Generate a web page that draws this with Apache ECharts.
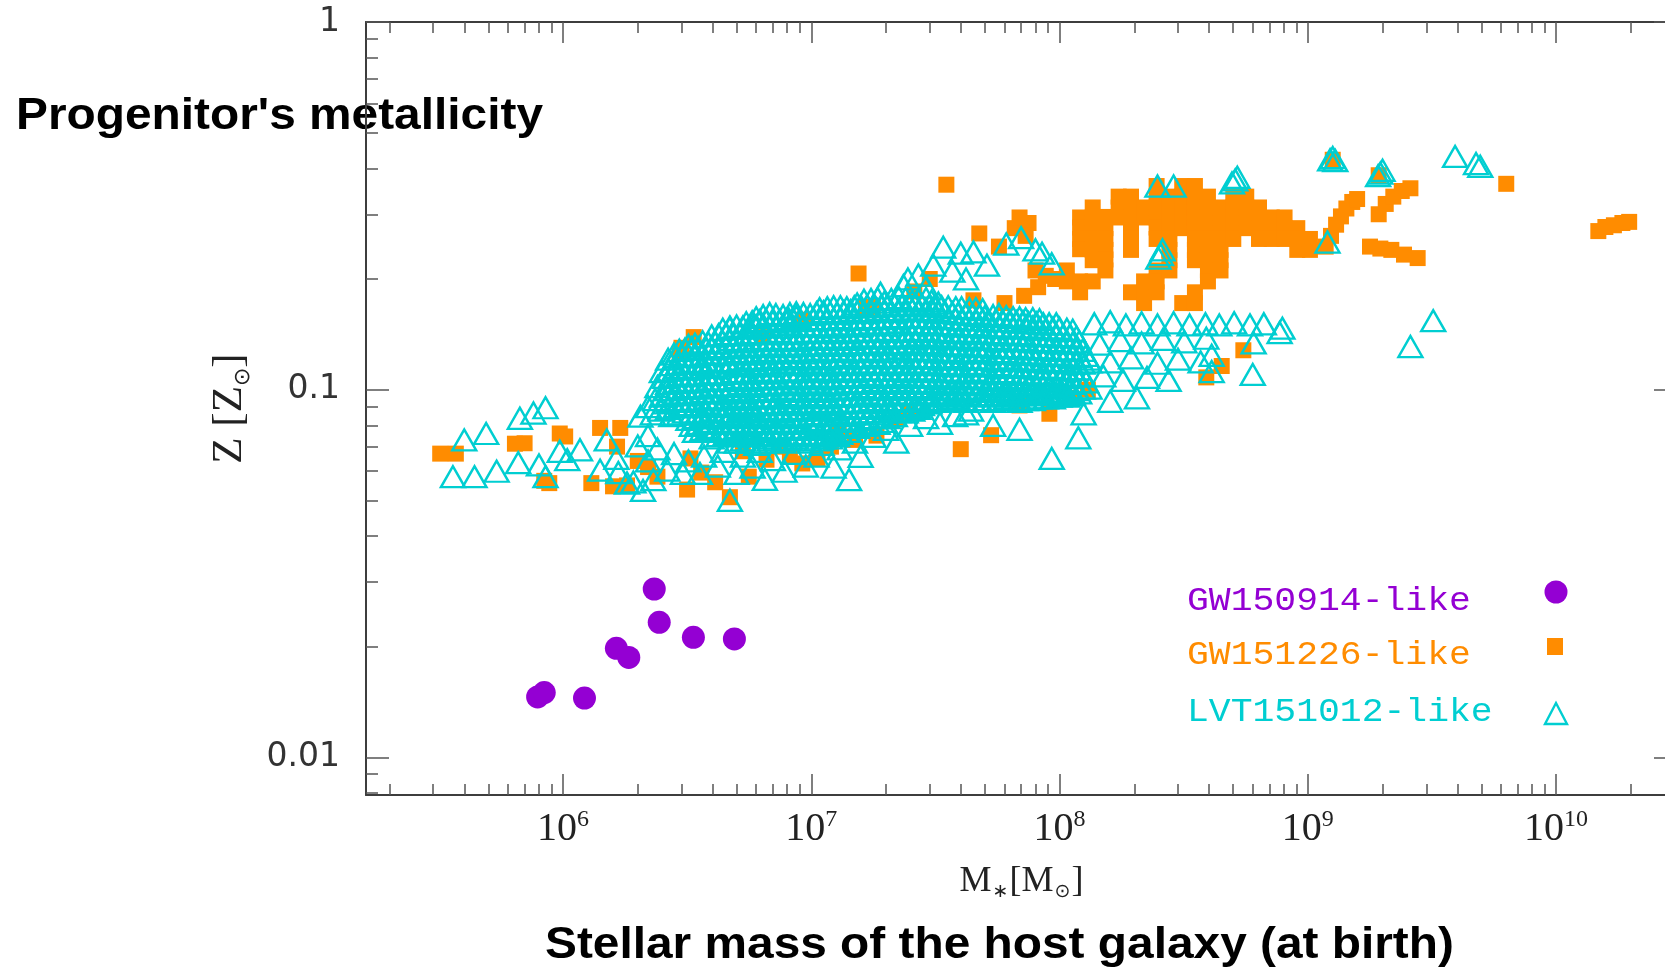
<!DOCTYPE html>
<html>
<head>
<meta charset="utf-8">
<script src="https://cdn.jsdelivr.net/npm/echarts@6/dist/echarts.min.js"></script>
<style>
  html, body { margin: 0; padding: 0; background: #ffffff; }
  #chart { width: 1665px; height: 969px; }
</style>
</head>
<body>
<div id="chart"></div>
<script>
// Axis ranges (stellar mass in M_sun, metallicity in Z_sun)
const massRange = [1.608e5, 3.07e10];
const zRange = [0.0079, 1];

// Tick marks and their labels
const massTicks = [1e6, 1e7, 1e8, 1e9, 1e10];
const massTickExponents = ['6', '7', '8', '9', '10'];
const zTicks = [0.01, 0.1, 1];
const zTickLabels = ['0.01', '0.1', '1'];

// Series names and colours
const seriesNames = ['GW150914-like', 'GW151226-like', 'LVT151012-like'];
const seriesColors = ['#9400d3', '#ff8c00', '#00ced1'];

// GW150914-like hosts: [M*, Z]
const gw150914 = [
  [7.9e5, 0.0146], [8.4e5, 0.0150], [1.22e6, 0.0145], [1.64e6, 0.0198], [1.84e6, 0.0187],
  [2.33e6, 0.0287], [2.44e6, 0.0233], [3.35e6, 0.0212], [4.9e6, 0.0210]
];

// GW151226-like hosts, low-mass / low-metallicity part
const gw151226Low = [
  [3.2e5, 0.067], [3.7e5, 0.067], [6.4e5, 0.0713], [7.0e5, 0.0715], [9.7e5, 0.076], [1.02e6, 0.0746],
  [8.4e5, 0.0565], [8.8e5, 0.0557], [1.3e6, 0.0557], [1.41e6, 0.0787], [1.59e6, 0.0546], [1.7e6, 0.0787],
  [1.65e6, 0.070], [1.81e6, 0.0549], [2.0e6, 0.064], [2.2e6, 0.0616], [2.4e6, 0.058], [2.95e6, 0.125],
  [3.0e6, 0.130], [3.36e6, 0.139], [3.16e6, 0.0535], [3.26e6, 0.065], [3.6e6, 0.0595], [4.1e6, 0.056],
  [4.7e6, 0.051], [5.3e6, 0.068], [5.6e6, 0.058], [6.4e6, 0.139], [6.6e6, 0.0645], [7.5e6, 0.070],
  [8.2e6, 0.066], [9.3e6, 0.155], [9.2e6, 0.063], [1.06e7, 0.065], [1.2e7, 0.070], [1.29e7, 0.0777],
  [1.5e7, 0.073], [1.77e7, 0.168], [1.83e7, 0.075], [2.2e7, 0.083], [2.5e7, 0.087], [4.0e7, 0.0689],
  [5.3e7, 0.0752], [6.9e7, 0.0906], [9.1e7, 0.086], [1.1e8, 0.095], [1.3e8, 0.10],
  [1.55e7, 0.207], [1.66e7, 0.167], [2.6e7, 0.185], [3.0e7, 0.20], [4.5e7, 0.175],
  [3.9e8, 0.108], [4.5e8, 0.116], [5.5e8, 0.128]
];

// GW151226-like hosts, massive / metal-rich part
const gw151226High = [
  [3.5e7, 0.361], [4.75e7, 0.266], [5.7e7, 0.245],
  [6.6e7, 0.275], [6.9e7, 0.294], [7.5e7, 0.284], [7.3e7, 0.262], [8.0e7, 0.211], [8.8e7, 0.204],
  [6.0e7, 0.172], [7.2e7, 0.18], [8.2e7, 0.19], [9.6e7, 0.20],
  [1.07e8, 0.211], [1.07e8, 0.197],
  [1.21e8, 0.294], [1.21e8, 0.276], [1.21e8, 0.257], [1.21e8, 0.241], [1.21e8, 0.197], [1.21e8, 0.184],
  [1.36e8, 0.313], [1.36e8, 0.294], [1.36e8, 0.275], [1.36e8, 0.258], [1.36e8, 0.240], [1.36e8, 0.225], [1.36e8, 0.197],
  [1.53e8, 0.295], [1.53e8, 0.275], [1.53e8, 0.257], [1.53e8, 0.240], [1.53e8, 0.226], [1.53e8, 0.211],
  [1.73e8, 0.335], [1.73e8, 0.313], [1.73e8, 0.294],
  [1.94e8, 0.335], [1.94e8, 0.314], [1.94e8, 0.294], [1.94e8, 0.275], [1.94e8, 0.257], [1.94e8, 0.240], [1.94e8, 0.184],
  [2.19e8, 0.313], [2.19e8, 0.294], [2.19e8, 0.197], [2.19e8, 0.184], [2.19e8, 0.172],
  [2.46e8, 0.358], [2.46e8, 0.335], [2.46e8, 0.313], [2.46e8, 0.294], [2.46e8, 0.276], [2.46e8, 0.257],
  [2.46e8, 0.211], [2.46e8, 0.197], [2.46e8, 0.184],
  [2.77e8, 0.335], [2.77e8, 0.313], [2.77e8, 0.294], [2.77e8, 0.275], [2.77e8, 0.257], [2.77e8, 0.240],
  [2.77e8, 0.225], [2.77e8, 0.211],
  [3.12e8, 0.358], [3.12e8, 0.335], [3.12e8, 0.313], [3.12e8, 0.294], [3.12e8, 0.275],
  [3.12e8, 0.172],
  [3.51e8, 0.358], [3.51e8, 0.335], [3.51e8, 0.313], [3.51e8, 0.294], [3.51e8, 0.275], [3.51e8, 0.257],
  [3.51e8, 0.240], [3.51e8, 0.225], [3.51e8, 0.184], [3.51e8, 0.172],
  [3.96e8, 0.335], [3.96e8, 0.313], [3.96e8, 0.294], [3.96e8, 0.275], [3.96e8, 0.257], [3.96e8, 0.240],
  [3.96e8, 0.225], [3.96e8, 0.211], [3.96e8, 0.197],
  [4.45e8, 0.313], [4.45e8, 0.294], [4.45e8, 0.275], [4.45e8, 0.257], [4.45e8, 0.240], [4.45e8, 0.225], [4.45e8, 0.211],
  [5.01e8, 0.335], [5.01e8, 0.313], [5.01e8, 0.294], [5.01e8, 0.275], [5.01e8, 0.257],
  [5.65e8, 0.335], [5.65e8, 0.313], [5.65e8, 0.294], [5.65e8, 0.275],
  [6.36e8, 0.313], [6.36e8, 0.294], [6.36e8, 0.275], [6.36e8, 0.257],
  [7.16e8, 0.294], [7.16e8, 0.275], [7.16e8, 0.257],
  [8.06e8, 0.294], [8.06e8, 0.275], [8.06e8, 0.257],
  [9.07e8, 0.275], [9.07e8, 0.257], [9.07e8, 0.240],
  [1.02e9, 0.257], [1.02e9, 0.240],
  [1.18e9, 0.245], [1.24e9, 0.262], [1.3e9, 0.281], [1.36e9, 0.296], [1.43e9, 0.311], [1.51e9, 0.324], [1.58e9, 0.33],
  [1.78e9, 0.245], [1.96e9, 0.242], [2.17e9, 0.24], [2.44e9, 0.233], [2.77e9, 0.228],
  [1.93e9, 0.30], [2.06e9, 0.32], [2.21e9, 0.335], [2.39e9, 0.347], [2.59e9, 0.353],
  [1.26e9, 0.422], [1.93e9, 0.383], [6.3e9, 0.363],
  [1.48e10, 0.27], [1.58e10, 0.277], [1.71e10, 0.28], [1.85e10, 0.284], [1.97e10, 0.286]
];

// LVT151012-like hosts, isolated points around the main cloud
const lvtOuter = [
  [3.6e5, 0.058], [4.4e5, 0.058], [5.4e5, 0.060], [4.0e5, 0.073], [4.9e5, 0.076], [6.7e5, 0.0836],
  [7.6e5, 0.0864], [8.5e5, 0.0893], [6.6e5, 0.0633], [8.0e5, 0.0624], [8.5e5, 0.058], [9.7e5, 0.068],
  [1.04e6, 0.0645], [1.17e6, 0.0686], [1.41e6, 0.0604], [1.5e6, 0.073], [1.81e6, 0.0557], [1.92e6, 0.0561],
  [2.31e6, 0.0569], [2.63e6, 0.0604], [3.04e6, 0.0592], [3.56e6, 0.0592], [4.7e6, 0.050], [5.0e6, 0.0592],
  [5.8e6, 0.0616], [7.0e6, 0.0645], [8.5e6, 0.0671], [1.23e7, 0.0616], [1.42e7, 0.0569], [1.58e7, 0.0659],
  [1.78e7, 0.0746], [2.8e6, 0.125], [4.7e6, 0.148], [5.9e6, 0.150], [8.1e6, 0.156], [8.7e6, 0.158],
  [2.63e6, 0.100], [2.47e6, 0.088], [2.05e6, 0.0847], [1.64e6, 0.065], [2.0e6, 0.0703], [2.2e6, 0.075],
  [1.67e6, 0.0595], [2.1e6, 0.0532], [2.2e6, 0.064], [2.4e6, 0.069], [2.8e6, 0.067], [3.2e6, 0.064],
  [3.7e6, 0.066], [4.2e6, 0.062], [4.4e6, 0.068], [5.3e6, 0.066], [6.2e6, 0.068], [6.5e6, 0.057],
  [7.8e6, 0.060], [9.5e6, 0.062], [1.05e7, 0.066], [1.1e7, 0.071], [1.3e7, 0.069], [1.5e7, 0.072],
  [2.0e7, 0.078], [2.2e7, 0.072], [2.5e7, 0.080], [2.9e7, 0.084], [3.3e7, 0.081], [3.8e7, 0.085],
  [4.4e7, 0.088], [2.3e6, 0.086], [2.35e6, 0.094], [2.4e6, 0.102], [2.2e6, 0.090],
  [1.9e7, 0.183], [2.35e7, 0.192], [2.7e7, 0.205], [3.1e7, 0.218], [3.4e7, 0.244], [4.0e7, 0.235],
  [4.5e7, 0.237], [2.45e7, 0.20], [2.9e7, 0.19], [5.1e7, 0.218], [6.1e7, 0.249], [7.0e7, 0.259],
  [8.0e7, 0.240], [9.3e7, 0.220], [8.5e7, 0.235], [3.7e7, 0.21], [4.2e7, 0.20],
  [1.38e8, 0.151], [1.6e8, 0.153], [1.85e8, 0.150], [2.14e8, 0.152], [2.48e8, 0.150], [2.88e8, 0.152],
  [3.34e8, 0.150], [3.87e8, 0.151], [4.4e8, 0.150], [5.05e8, 0.152], [5.85e8, 0.150], [6.65e8, 0.151],
  [7.9e8, 0.147], [7.7e8, 0.143],
  [1.45e8, 0.133], [1.76e8, 0.136], [2.14e8, 0.134], [2.61e8, 0.137], [3.18e8, 0.135], [3.9e8, 0.138], [6.05e8, 0.134],
  [1.3e8, 0.121], [1.6e8, 0.119], [1.94e8, 0.122], [2.48e8, 0.118], [3.0e8, 0.121], [3.7e8, 0.119], [4.1e8, 0.124],
  [1.5e8, 0.109], [1.8e8, 0.106], [2.25e8, 0.108], [2.75e8, 0.106], [4.1e8, 0.112], [6.0e8, 0.110],
  [1.6e8, 0.093], [2.05e8, 0.095], [1.25e8, 0.086], [1.19e8, 0.074], [9.3e7, 0.065], [6.9e7, 0.078],
  [5.4e7, 0.080], [4.2e7, 0.086],
  [2.59e9, 0.131], [3.2e9, 0.154],
  [1.26e9, 0.428], [1.29e9, 0.42], [1.23e9, 0.422], [1.96e9, 0.388], [2.0e9, 0.395], [1.92e9, 0.382],
  [3.92e9, 0.431], [4.76e9, 0.412], [4.95e9, 0.405], [1.20e9, 0.252], [4.95e8, 0.365], [5.1e8, 0.372],
  [5.2e8, 0.378], [2.48e8, 0.358], [2.88e8, 0.358], [2.56e8, 0.233], [2.6e8, 0.24], [2.5e8, 0.228]
];

// LVT151012-like hosts, the crowded core of the mass-metallicity relation
const lvtCore = [
  [1.53e7, 0.171], [1.74e7, 0.176], [1.97e7, 0.173], [2.25e7, 0.178], [2.55e7, 0.174], [2.9e7, 0.177], [3.25e7, 0.172],
  [1.08e7, 0.166], [1.23e7, 0.168], [1.39e7, 0.167], [1.58e7, 0.169], [1.8e7, 0.168], [2.03e7, 0.170], [2.32e7, 0.169],
  [2.63e7, 0.171], [2.99e7, 0.169], [3.35e7, 0.168], [3.82e7, 0.167], [4.33e7, 0.166], [4.9e7, 0.165],
  [6.0e6, 0.157], [6.8e6, 0.161], [7.7e6, 0.159], [8.7e6, 0.162], [9.9e6, 0.160], [1.12e7, 0.163], [1.27e7, 0.161],
  [1.44e7, 0.164], [1.63e7, 0.162], [1.85e7, 0.165], [2.1e7, 0.163], [2.4e7, 0.166], [2.7e7, 0.164], [3.05e7, 0.165],
  [3.45e7, 0.163], [3.9e7, 0.161], [4.45e7, 0.160], [5.0e7, 0.158], [5.7e7, 0.160], [6.5e7, 0.157], [7.3e7, 0.156],
  [8.3e7, 0.155],
  [5.47e6, 0.152], [6.2e6, 0.154], [7.0e6, 0.153], [7.95e6, 0.155], [8.98e6, 0.154], [1.02e7, 0.156], [1.16e7, 0.155],
  [1.31e7, 0.157], [1.49e7, 0.155], [1.68e7, 0.157], [1.91e7, 0.156], [2.17e7, 0.158], [2.48e7, 0.157], [2.79e7, 0.158],
  [3.15e7, 0.157], [3.56e7, 0.156], [4.03e7, 0.155], [4.6e7, 0.155], [5.16e7, 0.154], [5.88e7, 0.154], [6.7e7, 0.153],
  [7.5e7, 0.152], [8.6e7, 0.151], [9.7e7, 0.151],
  [4.4e6, 0.146], [5.0e6, 0.149], [5.6e6, 0.147], [6.4e6, 0.150], [7.2e6, 0.148], [8.2e6, 0.151], [9.3e6, 0.149],
  [1.05e7, 0.150], [1.19e7, 0.148], [1.35e7, 0.151], [1.53e7, 0.149], [1.74e7, 0.152], [1.97e7, 0.150], [2.25e7, 0.153],
  [2.55e7, 0.151], [2.9e7, 0.152], [3.25e7, 0.150], [3.7e7, 0.151], [4.2e7, 0.149], [4.75e7, 0.150], [5.4e7, 0.148],
  [6.1e7, 0.149], [6.9e7, 0.147], [7.8e7, 0.148], [8.8e7, 0.146], [1.0e8, 0.147], [1.13e8, 0.145],
  [3.97e6, 0.140], [4.54e6, 0.142], [5.16e6, 0.141], [5.78e6, 0.143], [6.6e6, 0.142], [7.43e6, 0.144], [8.46e6, 0.142],
  [9.6e6, 0.144], [1.08e7, 0.143], [1.23e7, 0.145], [1.39e7, 0.143], [1.58e7, 0.145], [1.8e7, 0.144], [2.03e7, 0.146],
  [2.32e7, 0.144], [2.63e7, 0.146], [2.99e7, 0.144], [3.35e7, 0.145], [3.82e7, 0.143], [4.33e7, 0.144], [4.9e7, 0.142],
  [5.57e7, 0.143], [6.3e7, 0.141], [7.12e7, 0.142], [8.05e7, 0.140], [9.08e7, 0.141], [1.03e8, 0.140], [1.17e8, 0.139],
  [3.2e6, 0.132], [3.65e6, 0.135], [4.1e6, 0.134], [4.7e6, 0.137], [5.3e6, 0.135], [6.0e6, 0.138], [6.8e6, 0.136],
  [7.7e6, 0.138], [8.7e6, 0.136], [9.9e6, 0.139], [1.12e7, 0.137], [1.27e7, 0.139], [1.44e7, 0.137], [1.63e7, 0.140],
  [1.85e7, 0.138], [2.1e7, 0.140], [2.4e7, 0.138], [2.7e7, 0.141], [3.05e7, 0.139], [3.45e7, 0.140], [3.9e7, 0.138],
  [4.45e7, 0.139], [5.0e7, 0.137], [5.7e7, 0.138], [6.5e7, 0.136], [7.3e7, 0.137], [8.3e7, 0.135], [9.4e7, 0.136],
  [1.07e8, 0.134], [1.2e8, 0.135],
  [2.94e6, 0.128], [3.3e6, 0.130], [3.77e6, 0.129], [4.23e6, 0.131], [4.85e6, 0.130], [5.47e6, 0.132], [6.2e6, 0.131],
  [7.0e6, 0.133], [7.95e6, 0.131], [8.98e6, 0.133], [1.02e7, 0.132], [1.16e7, 0.134], [1.31e7, 0.132], [1.49e7, 0.134],
  [1.68e7, 0.133], [1.91e7, 0.135], [2.17e7, 0.133], [2.48e7, 0.135], [2.79e7, 0.133], [3.15e7, 0.134], [3.56e7, 0.132],
  [4.03e7, 0.133], [4.6e7, 0.131], [5.16e7, 0.132], [5.88e7, 0.130], [6.7e7, 0.131], [7.5e7, 0.129], [8.6e7, 0.130],
  [9.7e7, 0.128], [1.1e8, 0.129], [1.24e8, 0.128],
  [2.65e6, 0.121], [3.0e6, 0.124], [3.4e6, 0.123], [3.85e6, 0.126], [4.4e6, 0.125], [5.0e6, 0.127], [5.6e6, 0.125],
  [6.4e6, 0.128], [7.2e6, 0.126], [8.2e6, 0.128], [9.3e6, 0.126], [1.05e7, 0.129], [1.19e7, 0.127], [1.35e7, 0.129],
  [1.53e7, 0.127], [1.74e7, 0.129], [1.97e7, 0.127], [2.25e7, 0.130], [2.55e7, 0.128], [2.9e7, 0.129], [3.25e7, 0.127],
  [3.7e7, 0.128], [4.2e7, 0.126], [4.75e7, 0.128], [5.4e7, 0.126], [6.1e7, 0.127], [6.9e7, 0.125], [7.8e7, 0.126],
  [8.8e7, 0.124], [1.0e8, 0.125], [1.13e8, 0.123], [1.28e8, 0.124],
  [2.73e6, 0.117], [3.1e6, 0.119], [3.5e6, 0.118], [3.97e6, 0.120], [4.54e6, 0.119], [5.16e6, 0.121], [5.78e6, 0.120],
  [6.6e6, 0.122], [7.43e6, 0.121], [8.46e6, 0.123], [9.6e6, 0.121], [1.08e7, 0.123], [1.23e7, 0.122], [1.39e7, 0.124],
  [1.58e7, 0.122], [1.8e7, 0.124], [2.03e7, 0.122], [2.32e7, 0.124], [2.63e7, 0.122], [2.99e7, 0.123], [3.35e7, 0.121],
  [3.82e7, 0.123], [4.33e7, 0.121], [4.9e7, 0.122], [5.57e7, 0.120], [6.3e7, 0.122], [7.12e7, 0.120], [8.05e7, 0.121],
  [9.08e7, 0.119], [1.03e8, 0.120], [1.17e8, 0.118], [1.32e8, 0.119],
  [2.5e6, 0.112], [2.85e6, 0.115], [3.2e6, 0.114], [3.65e6, 0.117], [4.1e6, 0.115], [4.7e6, 0.118], [5.3e6, 0.116],
  [6.0e6, 0.118], [6.8e6, 0.116], [7.7e6, 0.119], [8.7e6, 0.117], [9.9e6, 0.119], [1.12e7, 0.117], [1.27e7, 0.119],
  [1.44e7, 0.117], [1.63e7, 0.119], [1.85e7, 0.117], [2.1e7, 0.119], [2.4e7, 0.117], [2.7e7, 0.119], [3.05e7, 0.117],
  [3.45e7, 0.118], [3.9e7, 0.116], [4.45e7, 0.118], [5.0e7, 0.116], [5.7e7, 0.117], [6.5e7, 0.115], [7.3e7, 0.116],
  [8.3e7, 0.114], [9.4e7, 0.115], [1.07e8, 0.113], [1.2e8, 0.114],
  [2.58e6, 0.108], [2.94e6, 0.110], [3.3e6, 0.109], [3.77e6, 0.111], [4.23e6, 0.110], [4.85e6, 0.112], [5.47e6, 0.111],
  [6.2e6, 0.113], [7.0e6, 0.111], [7.95e6, 0.113], [8.98e6, 0.112], [1.02e7, 0.114], [1.16e7, 0.112], [1.31e7, 0.114],
  [1.49e7, 0.112], [1.68e7, 0.114], [1.91e7, 0.113], [2.17e7, 0.114], [2.48e7, 0.112], [2.79e7, 0.114], [3.15e7, 0.112],
  [3.56e7, 0.113], [4.03e7, 0.111], [4.6e7, 0.113], [5.16e7, 0.111], [5.88e7, 0.112], [6.7e7, 0.110], [7.5e7, 0.111],
  [8.6e7, 0.109], [9.7e7, 0.110], [1.1e8, 0.108], [1.24e8, 0.109],
  [2.65e6, 0.104], [3.0e6, 0.106], [3.4e6, 0.105], [3.85e6, 0.107], [4.4e6, 0.106], [5.0e6, 0.108], [5.6e6, 0.106],
  [6.4e6, 0.108], [7.2e6, 0.107], [8.2e6, 0.109], [9.3e6, 0.107], [1.05e7, 0.109], [1.19e7, 0.107], [1.35e7, 0.109],
  [1.53e7, 0.108], [1.74e7, 0.110], [1.97e7, 0.108], [2.25e7, 0.110], [2.55e7, 0.108], [2.9e7, 0.109], [3.25e7, 0.107],
  [3.7e7, 0.109], [4.2e7, 0.107], [4.75e7, 0.108], [5.4e7, 0.106], [6.1e7, 0.108], [6.9e7, 0.106], [7.8e7, 0.107],
  [8.8e7, 0.105], [1.0e8, 0.106], [1.13e8, 0.104], [1.28e8, 0.105],
  [2.73e6, 0.100], [3.1e6, 0.102], [3.5e6, 0.101], [3.97e6, 0.103], [4.54e6, 0.102], [5.16e6, 0.104], [5.78e6, 0.102],
  [6.6e6, 0.104], [7.43e6, 0.103], [8.46e6, 0.105], [9.6e6, 0.103], [1.08e7, 0.105], [1.23e7, 0.103], [1.39e7, 0.105],
  [1.58e7, 0.104], [1.8e7, 0.106], [2.03e7, 0.104], [2.32e7, 0.106], [2.63e7, 0.104], [2.99e7, 0.105], [3.35e7, 0.103],
  [3.82e7, 0.105], [4.33e7, 0.103], [4.9e7, 0.104], [5.57e7, 0.102], [6.3e7, 0.104], [7.12e7, 0.102], [8.05e7, 0.103],
  [9.08e7, 0.101], [1.03e8, 0.102], [1.17e8, 0.100], [1.32e8, 0.101],
  [2.5e6, 0.096], [2.85e6, 0.098], [3.2e6, 0.097], [3.65e6, 0.099], [4.1e6, 0.098], [4.7e6, 0.100], [5.3e6, 0.098],
  [6.0e6, 0.100], [6.8e6, 0.099], [7.7e6, 0.101], [8.7e6, 0.099], [9.9e6, 0.101], [1.12e7, 0.099], [1.27e7, 0.101],
  [1.44e7, 0.100], [1.63e7, 0.102], [1.85e7, 0.100], [2.1e7, 0.102], [2.4e7, 0.100], [2.7e7, 0.102], [3.05e7, 0.100],
  [3.45e7, 0.101], [3.9e7, 0.099], [4.45e7, 0.101], [5.0e7, 0.099], [5.7e7, 0.100], [6.5e7, 0.098], [7.3e7, 0.100],
  [8.3e7, 0.098], [9.4e7, 0.099], [1.07e8, 0.097], [1.2e8, 0.098],
  [2.58e6, 0.092], [2.94e6, 0.094], [3.3e6, 0.093], [3.77e6, 0.095], [4.23e6, 0.094], [4.85e6, 0.096], [5.47e6, 0.094],
  [6.2e6, 0.096], [7.0e6, 0.095], [7.95e6, 0.097], [8.98e6, 0.095], [1.02e7, 0.097], [1.16e7, 0.095], [1.31e7, 0.097],
  [1.49e7, 0.096], [1.68e7, 0.098], [1.91e7, 0.096], [2.17e7, 0.098], [2.48e7, 0.097], [2.79e7, 0.098], [3.15e7, 0.096],
  [3.56e7, 0.098], [4.03e7, 0.096], [4.6e7, 0.097], [5.16e7, 0.096], [5.88e7, 0.097], [6.7e7, 0.096], [7.5e7, 0.097],
  [8.6e7, 0.097], [9.7e7, 0.098], [1.1e8, 0.099],
  [2.65e6, 0.089], [3.0e6, 0.091], [3.4e6, 0.090], [3.85e6, 0.092], [4.4e6, 0.090], [5.0e6, 0.092], [5.6e6, 0.090],
  [6.4e6, 0.092], [7.2e6, 0.091], [8.2e6, 0.093], [9.3e6, 0.091], [1.05e7, 0.093], [1.19e7, 0.091], [1.35e7, 0.093],
  [1.53e7, 0.092], [1.74e7, 0.094], [1.97e7, 0.092], [2.25e7, 0.094], [2.55e7, 0.093], [2.9e7, 0.094], [3.25e7, 0.093],
  [3.7e7, 0.095], [4.2e7, 0.093], [4.75e7, 0.094], [5.4e7, 0.093], [6.1e7, 0.095], [6.9e7, 0.093], [7.8e7, 0.094],
  [8.8e7, 0.095], [1.0e8, 0.096], [1.13e8, 0.097],
  [2.73e6, 0.085], [3.1e6, 0.087], [3.5e6, 0.086], [3.97e6, 0.088], [4.54e6, 0.087], [5.16e6, 0.089], [5.78e6, 0.087],
  [6.6e6, 0.089], [7.43e6, 0.087], [8.46e6, 0.089], [9.6e6, 0.088], [1.08e7, 0.090], [1.23e7, 0.088], [1.39e7, 0.090],
  [1.58e7, 0.089], [1.8e7, 0.090], [2.03e7, 0.089], [2.32e7, 0.091], [2.63e7, 0.090], [2.99e7, 0.092],
  [3.2e6, 0.083], [3.65e6, 0.085], [4.1e6, 0.084], [4.7e6, 0.086], [5.3e6, 0.084], [6.0e6, 0.086], [6.8e6, 0.084],
  [7.7e6, 0.086], [8.7e6, 0.084], [9.9e6, 0.086], [1.12e7, 0.085], [1.27e7, 0.087], [1.44e7, 0.085], [1.63e7, 0.087],
  [1.85e7, 0.086], [2.1e7, 0.088], [2.4e7, 0.087], [2.7e7, 0.089],
  [3.3e6, 0.080], [3.77e6, 0.082], [4.23e6, 0.081], [4.85e6, 0.082], [5.47e6, 0.080], [6.2e6, 0.082], [7.0e6, 0.081],
  [7.95e6, 0.082], [8.98e6, 0.081], [1.02e7, 0.083], [1.16e7, 0.081], [1.31e7, 0.083], [1.49e7, 0.082], [1.68e7, 0.084],
  [1.91e7, 0.084], [2.17e7, 0.085],
  [3.4e6, 0.077], [3.85e6, 0.079], [4.4e6, 0.077], [5.0e6, 0.079], [5.6e6, 0.077], [6.4e6, 0.079], [7.2e6, 0.077],
  [8.2e6, 0.079], [9.3e6, 0.078], [1.05e7, 0.080], [1.19e7, 0.078], [1.35e7, 0.080], [1.53e7, 0.079], [1.74e7, 0.081],
  [1.97e7, 0.082],
  [3.97e6, 0.074], [4.54e6, 0.076], [5.16e6, 0.075], [5.78e6, 0.076], [6.6e6, 0.074], [7.43e6, 0.076], [8.46e6, 0.075],
  [9.6e6, 0.076], [1.08e7, 0.075], [1.23e7, 0.077], [1.39e7, 0.077],
  [4.7e6, 0.072], [5.3e6, 0.073], [6.0e6, 0.071], [6.8e6, 0.073], [7.7e6, 0.072], [8.7e6, 0.074], [9.9e6, 0.072],
  [1.12e7, 0.074], [1.27e7, 0.075]
];

// LVT151012-like hosts filling the gaps of the crowded core
const lvtCoreFill = [
  [1.63e7, 0.175], [1.85e7, 0.177], [2.1e7, 0.176], [2.4e7, 0.177], [2.7e7, 0.176], [3.05e7, 0.174],
  [1.16e7, 0.167], [1.31e7, 0.168], [1.49e7, 0.168], [1.68e7, 0.169], [1.91e7, 0.169], [2.17e7, 0.170],
  [2.48e7, 0.170], [2.79e7, 0.170], [3.15e7, 0.169], [3.56e7, 0.168], [4.03e7, 0.167], [4.6e7, 0.166],
  [6.4e6, 0.159], [7.2e6, 0.160], [8.2e6, 0.161], [9.3e6, 0.161], [1.05e7, 0.162], [1.19e7, 0.162], [1.35e7, 0.163],
  [1.53e7, 0.163], [1.74e7, 0.164], [1.97e7, 0.164], [2.25e7, 0.165], [2.55e7, 0.165], [2.9e7, 0.165], [3.25e7, 0.164],
  [3.7e7, 0.162], [4.2e7, 0.161], [4.75e7, 0.159], [5.4e7, 0.159], [6.1e7, 0.158], [6.9e7, 0.157], [7.8e7, 0.156],
  [5.78e6, 0.153], [6.6e6, 0.154], [7.43e6, 0.154], [8.46e6, 0.155], [9.6e6, 0.155], [1.08e7, 0.156], [1.23e7, 0.156],
  [1.39e7, 0.156], [1.58e7, 0.156], [1.8e7, 0.157], [2.03e7, 0.157], [2.32e7, 0.158], [2.63e7, 0.158], [2.99e7, 0.158],
  [3.35e7, 0.157], [3.82e7, 0.156], [4.33e7, 0.155], [4.9e7, 0.155], [5.57e7, 0.154], [6.3e7, 0.154], [7.12e7, 0.153],
  [8.05e7, 0.152], [9.08e7, 0.151],
  [4.7e6, 0.147], [5.3e6, 0.148], [6.0e6, 0.149], [6.8e6, 0.149], [7.7e6, 0.150], [8.7e6, 0.150], [9.9e6, 0.150],
  [1.12e7, 0.149], [1.27e7, 0.150], [1.44e7, 0.150], [1.63e7, 0.151], [1.85e7, 0.151], [2.1e7, 0.152], [2.4e7, 0.152],
  [2.7e7, 0.152], [3.05e7, 0.151], [3.45e7, 0.151], [3.9e7, 0.150], [4.45e7, 0.150], [5.0e7, 0.149], [5.7e7, 0.149],
  [6.5e7, 0.148], [7.3e7, 0.148], [8.3e7, 0.147], [9.4e7, 0.147], [1.07e8, 0.146],
  [4.23e6, 0.141], [4.85e6, 0.141], [5.47e6, 0.142], [6.2e6, 0.142], [7.0e6, 0.143], [7.95e6, 0.143], [8.98e6, 0.143],
  [1.02e7, 0.144], [1.16e7, 0.144], [1.31e7, 0.144], [1.49e7, 0.144], [1.68e7, 0.145], [1.91e7, 0.145], [2.17e7, 0.145],
  [2.48e7, 0.145], [2.79e7, 0.145], [3.15e7, 0.144], [3.56e7, 0.144], [4.03e7, 0.144], [4.6e7, 0.143], [5.16e7, 0.143],
  [5.88e7, 0.142], [6.7e7, 0.142], [7.5e7, 0.141], [8.6e7, 0.141], [9.7e7, 0.140], [1.1e8, 0.140],
  [3.4e6, 0.133], [3.85e6, 0.134], [4.4e6, 0.135], [5.0e6, 0.136], [5.6e6, 0.136], [6.4e6, 0.137], [7.2e6, 0.137],
  [8.2e6, 0.137], [9.3e6, 0.138], [1.05e7, 0.138], [1.19e7, 0.138], [1.35e7, 0.138], [1.53e7, 0.139], [1.74e7, 0.139],
  [1.97e7, 0.139], [2.25e7, 0.139], [2.55e7, 0.140], [2.9e7, 0.140], [3.25e7, 0.139], [3.7e7, 0.139], [4.2e7, 0.138],
  [4.75e7, 0.138], [5.4e7, 0.137], [6.1e7, 0.137], [6.9e7, 0.136], [7.8e7, 0.136], [8.8e7, 0.135], [1.0e8, 0.135],
  [1.13e8, 0.134],
  [3.1e6, 0.129], [3.5e6, 0.130], [3.97e6, 0.130], [4.54e6, 0.131], [5.16e6, 0.131], [5.78e6, 0.132], [6.6e6, 0.132],
  [7.43e6, 0.132], [8.46e6, 0.132], [9.6e6, 0.133], [1.08e7, 0.133], [1.23e7, 0.133], [1.39e7, 0.133], [1.58e7, 0.134],
  [1.8e7, 0.134], [2.03e7, 0.134], [2.32e7, 0.134], [2.63e7, 0.134], [2.99e7, 0.134], [3.35e7, 0.133], [3.82e7, 0.133],
  [4.33e7, 0.132], [4.9e7, 0.132], [5.57e7, 0.131], [6.3e7, 0.131], [7.12e7, 0.130], [8.05e7, 0.130], [9.08e7, 0.129],
  [1.03e8, 0.129], [1.17e8, 0.128],
  [2.85e6, 0.123], [3.2e6, 0.124], [3.65e6, 0.125], [4.1e6, 0.125], [4.7e6, 0.126], [5.3e6, 0.126], [6.0e6, 0.127],
  [6.8e6, 0.127], [7.7e6, 0.127], [8.7e6, 0.127], [9.9e6, 0.128], [1.12e7, 0.128], [1.27e7, 0.128], [1.44e7, 0.128],
  [1.63e7, 0.128], [1.85e7, 0.128], [2.1e7, 0.129], [2.4e7, 0.129], [2.7e7, 0.128], [3.05e7, 0.128], [3.45e7, 0.128],
  [3.9e7, 0.127], [4.45e7, 0.127], [5.0e7, 0.127], [5.7e7, 0.126], [6.5e7, 0.126], [7.3e7, 0.125], [8.3e7, 0.125],
  [9.4e7, 0.124], [1.07e8, 0.124], [1.2e8, 0.123],
  [2.94e6, 0.118], [3.3e6, 0.119], [3.77e6, 0.119], [4.23e6, 0.120], [4.85e6, 0.120], [5.47e6, 0.121], [6.2e6, 0.121],
  [7.0e6, 0.122], [7.95e6, 0.122], [8.98e6, 0.122], [1.02e7, 0.122], [1.16e7, 0.123], [1.31e7, 0.123], [1.49e7, 0.123],
  [1.68e7, 0.123], [1.91e7, 0.123], [2.17e7, 0.123], [2.48e7, 0.123], [2.79e7, 0.122], [3.15e7, 0.122], [3.56e7, 0.122],
  [4.03e7, 0.122], [4.6e7, 0.121], [5.16e7, 0.121], [5.88e7, 0.121], [6.7e7, 0.121], [7.5e7, 0.120], [8.6e7, 0.120],
  [9.7e7, 0.119], [1.1e8, 0.119], [1.24e8, 0.118],
  [2.65e6, 0.113], [3.0e6, 0.114], [3.4e6, 0.115], [3.85e6, 0.116], [4.4e6, 0.116], [5.0e6, 0.117], [5.6e6, 0.117],
  [6.4e6, 0.117], [7.2e6, 0.118], [8.2e6, 0.118], [9.3e6, 0.118], [1.05e7, 0.118], [1.19e7, 0.118], [1.35e7, 0.118],
  [1.53e7, 0.118], [1.74e7, 0.118], [1.97e7, 0.118], [2.25e7, 0.118], [2.55e7, 0.118], [2.9e7, 0.118], [3.25e7, 0.117],
  [3.7e7, 0.117], [4.2e7, 0.117], [4.75e7, 0.117], [5.4e7, 0.116], [6.1e7, 0.116], [6.9e7, 0.116], [7.8e7, 0.115],
  [8.8e7, 0.115], [1.0e8, 0.114], [1.13e8, 0.114],
  [2.73e6, 0.109], [3.1e6, 0.110], [3.5e6, 0.110], [3.97e6, 0.111], [4.54e6, 0.111], [5.16e6, 0.112], [5.78e6, 0.112],
  [6.6e6, 0.112], [7.43e6, 0.112], [8.46e6, 0.113], [9.6e6, 0.113], [1.08e7, 0.113], [1.23e7, 0.113], [1.39e7, 0.113],
  [1.58e7, 0.113], [1.8e7, 0.113], [2.03e7, 0.113], [2.32e7, 0.113], [2.63e7, 0.113], [2.99e7, 0.113], [3.35e7, 0.112],
  [3.82e7, 0.112], [4.33e7, 0.112], [4.9e7, 0.112], [5.57e7, 0.111], [6.3e7, 0.111], [7.12e7, 0.111], [8.05e7, 0.110],
  [9.08e7, 0.110], [1.03e8, 0.109], [1.17e8, 0.109],
  [2.85e6, 0.105], [3.2e6, 0.105], [3.65e6, 0.106], [4.1e6, 0.106], [4.7e6, 0.107], [5.3e6, 0.107], [6.0e6, 0.107],
  [6.8e6, 0.108], [7.7e6, 0.108], [8.7e6, 0.108], [9.9e6, 0.108], [1.12e7, 0.108], [1.27e7, 0.108], [1.44e7, 0.109],
  [1.63e7, 0.109], [1.85e7, 0.109], [2.1e7, 0.109], [2.4e7, 0.109], [2.7e7, 0.109], [3.05e7, 0.108], [3.45e7, 0.108],
  [3.9e7, 0.108], [4.45e7, 0.108], [5.0e7, 0.107], [5.7e7, 0.107], [6.5e7, 0.107], [7.3e7, 0.106], [8.3e7, 0.106],
  [9.4e7, 0.106], [1.07e8, 0.105], [1.2e8, 0.105],
  [2.94e6, 0.101], [3.3e6, 0.101], [3.77e6, 0.102], [4.23e6, 0.102], [4.85e6, 0.103], [5.47e6, 0.103], [6.2e6, 0.103],
  [7.0e6, 0.104], [7.95e6, 0.104], [8.98e6, 0.104], [1.02e7, 0.104], [1.16e7, 0.104], [1.31e7, 0.104], [1.49e7, 0.105],
  [1.68e7, 0.105], [1.91e7, 0.105], [2.17e7, 0.105], [2.48e7, 0.105], [2.79e7, 0.105], [3.15e7, 0.104], [3.56e7, 0.104],
  [4.03e7, 0.104], [4.6e7, 0.104], [5.16e7, 0.103], [5.88e7, 0.103], [6.7e7, 0.103], [7.5e7, 0.102], [8.6e7, 0.102],
  [9.7e7, 0.102], [1.1e8, 0.101], [1.24e8, 0.101],
  [2.65e6, 0.097], [3.0e6, 0.097], [3.4e6, 0.098], [3.85e6, 0.098], [4.4e6, 0.099], [5.0e6, 0.099], [5.6e6, 0.099],
  [6.4e6, 0.100], [7.2e6, 0.100], [8.2e6, 0.100], [9.3e6, 0.100], [1.05e7, 0.100], [1.19e7, 0.100], [1.35e7, 0.101],
  [1.53e7, 0.101], [1.74e7, 0.101], [1.97e7, 0.101], [2.25e7, 0.101], [2.55e7, 0.101], [2.9e7, 0.101], [3.25e7, 0.101],
  [3.7e7, 0.100], [4.2e7, 0.100], [4.75e7, 0.100], [5.4e7, 0.100], [6.1e7, 0.099], [6.9e7, 0.099], [7.8e7, 0.099],
  [8.8e7, 0.099], [1.0e8, 0.098], [1.13e8, 0.098],
  [2.73e6, 0.093], [3.1e6, 0.093], [3.5e6, 0.094], [3.97e6, 0.094], [4.54e6, 0.095], [5.16e6, 0.095], [5.78e6, 0.095],
  [6.6e6, 0.096], [7.43e6, 0.096], [8.46e6, 0.096], [9.6e6, 0.096], [1.08e7, 0.096], [1.23e7, 0.096], [1.39e7, 0.097],
  [1.58e7, 0.097], [1.8e7, 0.097], [2.03e7, 0.097], [2.32e7, 0.097], [2.63e7, 0.097], [2.99e7, 0.097], [3.35e7, 0.097],
  [3.82e7, 0.097], [4.33e7, 0.097], [4.9e7, 0.097], [5.57e7, 0.097], [6.3e7, 0.097], [7.12e7, 0.097], [8.05e7, 0.097],
  [9.08e7, 0.098], [1.03e8, 0.098],
  [2.85e6, 0.090], [3.2e6, 0.090], [3.65e6, 0.091], [4.1e6, 0.091], [4.7e6, 0.091], [5.3e6, 0.091], [6.0e6, 0.091],
  [6.8e6, 0.092], [7.7e6, 0.092], [8.7e6, 0.092], [9.9e6, 0.092], [1.12e7, 0.092], [1.27e7, 0.092], [1.44e7, 0.093],
  [1.63e7, 0.093], [1.85e7, 0.093], [2.1e7, 0.093], [2.4e7, 0.094], [2.7e7, 0.094], [3.05e7, 0.094], [3.45e7, 0.094],
  [3.9e7, 0.094], [4.45e7, 0.094], [5.0e7, 0.094], [5.7e7, 0.094], [6.5e7, 0.094], [7.3e7, 0.094], [8.3e7, 0.095],
  [9.4e7, 0.095], [1.07e8, 0.096],
  [2.94e6, 0.086], [3.3e6, 0.086], [3.77e6, 0.087], [4.23e6, 0.087], [4.85e6, 0.087], [5.47e6, 0.088], [6.2e6, 0.088],
  [7.0e6, 0.088], [7.95e6, 0.088], [8.98e6, 0.088], [1.02e7, 0.089], [1.16e7, 0.089], [1.31e7, 0.089], [1.49e7, 0.089],
  [1.68e7, 0.089], [1.91e7, 0.090], [2.17e7, 0.090], [2.48e7, 0.090], [2.79e7, 0.091],
  [3.4e6, 0.084], [3.85e6, 0.084], [4.4e6, 0.085], [5.0e6, 0.085], [5.6e6, 0.085], [6.4e6, 0.085], [7.2e6, 0.085],
  [8.2e6, 0.085], [9.3e6, 0.085], [1.05e7, 0.086], [1.19e7, 0.086], [1.35e7, 0.086], [1.53e7, 0.086], [1.74e7, 0.087],
  [1.97e7, 0.087], [2.25e7, 0.087], [2.55e7, 0.088],
  [3.5e6, 0.081], [3.97e6, 0.081], [4.54e6, 0.082], [5.16e6, 0.081], [5.78e6, 0.081], [6.6e6, 0.081], [7.43e6, 0.082],
  [8.46e6, 0.082], [9.6e6, 0.082], [1.08e7, 0.082], [1.23e7, 0.082], [1.39e7, 0.083], [1.58e7, 0.083], [1.8e7, 0.084],
  [2.03e7, 0.084],
  [3.65e6, 0.078], [4.1e6, 0.078], [4.7e6, 0.078], [5.3e6, 0.078], [6.0e6, 0.078], [6.8e6, 0.078], [7.7e6, 0.078],
  [8.7e6, 0.078], [9.9e6, 0.079], [1.12e7, 0.079], [1.27e7, 0.079], [1.44e7, 0.080], [1.63e7, 0.080], [1.85e7, 0.081],
  [4.23e6, 0.075], [4.85e6, 0.075], [5.47e6, 0.075], [6.2e6, 0.075], [7.0e6, 0.075], [7.95e6, 0.075], [8.98e6, 0.075],
  [1.02e7, 0.076], [1.16e7, 0.076], [1.31e7, 0.076],
  [5.0e6, 0.072], [5.6e6, 0.072], [6.4e6, 0.072], [7.2e6, 0.073], [8.2e6, 0.073], [9.3e6, 0.073], [1.05e7, 0.073],
  [1.19e7, 0.074]
];

const log10 = Math.log10;
const xLo = log10(massRange[0]), xHi = log10(massRange[1]);
const yLo = log10(zRange[0]), yHi = log10(zRange[1]);

// minor tick positions (2..9 x 10^n) in log units, inside [lo, hi]
function minorTicks(lo, hi) {
  const out = [];
  for (let e = Math.floor(lo); e <= Math.ceil(hi); e++) {
    for (let k = 2; k <= 9; k++) {
      const v = e + log10(k);
      if (v > lo && v < hi) out.push(v);
    }
  }
  return out;
}

const frameColor = '#3d3d3d';
const tickColor = '#555555';
const MAJOR = 21, MINOR = 11;

function findLabel(values, labels, v) {
  for (let i = 0; i < values.length; i++) {
    if (Math.abs(log10(values[i]) - v) < 1e-6) return labels[i];
  }
  return '';
}

// decorative frame axes in log10 units, sharing the data grid
function frameAxis(position, lo, hi, ticks, len, withLine, label, extra) {
  return Object.assign({
    type: 'value', position: position, min: lo, max: hi,
    axisLine: { show: withLine, onZero: false, lineStyle: { color: frameColor, width: 2 } },
    axisTick: { show: true, inside: true, length: len, customValues: ticks,
                lineStyle: { color: tickColor, width: 1.5 } },
    axisLabel: label || { show: false },
    splitLine: { show: false }
  }, extra || {});
}

const xMajorLog = massTicks.map(log10);
const yMajorLog = zTicks.map(log10);

const serif = '"Liberation Serif", "DejaVu Serif", serif';

const option = {
  animation: false,
  backgroundColor: '#ffffff',
  grid: { left: 366, right: -12, top: 22, bottom: 174, containLabel: false, outerBoundsMode: 'none' },
  xAxis: [
    { type: 'log', logBase: 10, min: massRange[0], max: massRange[1], show: false },
    frameAxis('bottom', xLo, xHi, xMajorLog, MAJOR, true, {
      show: true, customValues: xMajorLog, margin: 13,
      formatter: v => '{b|10}{s|' + findLabel(massTicks, massTickExponents, v) + '}',
      rich: {
        b: { fontFamily: serif, fontSize: 40, color: '#222', lineHeight: 42 },
        s: { fontFamily: serif, fontSize: 24, color: '#222', lineHeight: 24, verticalAlign: 'top' }
      }
    }, {
      name: '{m|M}{u|\u2217}{m|[M}{u|\u2299}{m|]}',
      nameLocation: 'middle', nameGap: 67,
      nameTextStyle: {
        rich: {
          m: { fontFamily: serif, fontSize: 36, color: '#222', lineHeight: 40 },
          u: { fontFamily: '"DejaVu Sans", sans-serif', fontSize: 19, color: '#222', lineHeight: 40, verticalAlign: 'bottom', padding: [0, 1, 0, 1] }
        }
      }
    }),
    frameAxis('bottom', xLo, xHi, minorTicks(xLo, xHi), MINOR, false),
    frameAxis('top', xLo, xHi, xMajorLog, MAJOR, true),
    frameAxis('top', xLo, xHi, minorTicks(xLo, xHi), MINOR, false)
  ],
  yAxis: [
    { type: 'log', logBase: 10, min: zRange[0], max: zRange[1], show: false },
    frameAxis('left', yLo, yHi, yMajorLog, MAJOR + 2, true, {
      show: true, customValues: yMajorLog, margin: 26,
      formatter: v => findLabel(zTicks, zTickLabels, v),
      fontFamily: '"DejaVu Sans", sans-serif', fontSize: 33, color: '#333'
    }, {
      name: '{m|Z [Z}{u|\u2299}{m|]}',
      nameLocation: 'middle', nameGap: 112, nameRotate: 90,
      nameTextStyle: {
        rich: {
          m: { fontFamily: serif, fontSize: 43, color: '#222', lineHeight: 48 },
          u: { fontFamily: '"DejaVu Sans", sans-serif', fontSize: 22, color: '#222', lineHeight: 48, verticalAlign: 'bottom' }
        }
      }
    }),
    frameAxis('left', yLo, yHi, minorTicks(yLo, yHi), MINOR + 1, false),
    frameAxis('right', yLo, yHi, yMajorLog, MAJOR + 2, true),
    frameAxis('right', yLo, yHi, minorTicks(yLo, yHi), MINOR + 1, false)
  ],
  series: [
    {
      name: seriesNames[1], type: 'scatter', xAxisIndex: 0, yAxisIndex: 0,
      data: gw151226Low.concat(gw151226High),
      symbol: 'rect', symbolSize: 16,
      itemStyle: { color: seriesColors[1], opacity: 1 },
      z: 2, silent: true
    },
    {
      name: seriesNames[2], type: 'scatter', xAxisIndex: 0, yAxisIndex: 0,
      data: lvtOuter.concat(lvtCore, lvtCoreFill),
      symbol: 'triangle', symbolSize: [24, 21],
      itemStyle: { color: 'rgba(0,0,0,0)', borderColor: seriesColors[2], borderWidth: 2.4, opacity: 1 },
      z: 3, silent: true
    },
    {
      name: seriesNames[0], type: 'scatter', xAxisIndex: 0, yAxisIndex: 0,
      data: gw150914,
      symbol: 'circle', symbolSize: 23,
      itemStyle: { color: seriesColors[0], opacity: 1 },
      z: 4, silent: true
    }
  ],
  graphic: [
    {
      type: 'text', x: 16, y: 117, scaleX: 1.087, z: -1,
      style: { text: "Progenitor's metallicity", font: 'bold 44px "Liberation Sans", Arial, sans-serif',
               fill: '#000', align: 'left', verticalAlign: 'middle' }
    },
    {
      type: 'text', x: 545, y: 946, scaleX: 1.087, z: -1,
      style: { text: 'Stellar mass of the host galaxy (at birth)', font: 'bold 44px "Liberation Sans", Arial, sans-serif',
               fill: '#000', align: 'left', verticalAlign: 'middle' }
    },
    // legend entries
    {
      type: 'text', x: 1187, y: 601, scaleX: 1.07,
      style: { text: seriesNames[0], font: '34px "Liberation Mono", "DejaVu Sans Mono", monospace',
               fill: seriesColors[0], align: 'left', verticalAlign: 'middle' }
    },
    {
      type: 'text', x: 1187, y: 655, scaleX: 1.07,
      style: { text: seriesNames[1], font: '34px "Liberation Mono", "DejaVu Sans Mono", monospace',
               fill: seriesColors[1], align: 'left', verticalAlign: 'middle' }
    },
    {
      type: 'text', x: 1187, y: 712, scaleX: 1.07,
      style: { text: seriesNames[2], font: '34px "Liberation Mono", "DejaVu Sans Mono", monospace',
               fill: seriesColors[2], align: 'left', verticalAlign: 'middle' }
    },
    { type: 'circle', shape: { cx: 1556, cy: 592, r: 11.5 }, style: { fill: seriesColors[0] } },
    { type: 'rect', shape: { x: 1547, y: 638, width: 16, height: 17 }, style: { fill: seriesColors[1] } },
    { type: 'polygon', shape: { points: [[1556, 703], [1545, 724], [1567, 724]] },
      style: { fill: 'none', stroke: seriesColors[2], lineWidth: 2.4 } }
  ]
};

const chart = echarts.init(document.getElementById('chart'), null, { renderer: 'canvas' });
chart.setOption(option);
</script>
</body>
</html>
